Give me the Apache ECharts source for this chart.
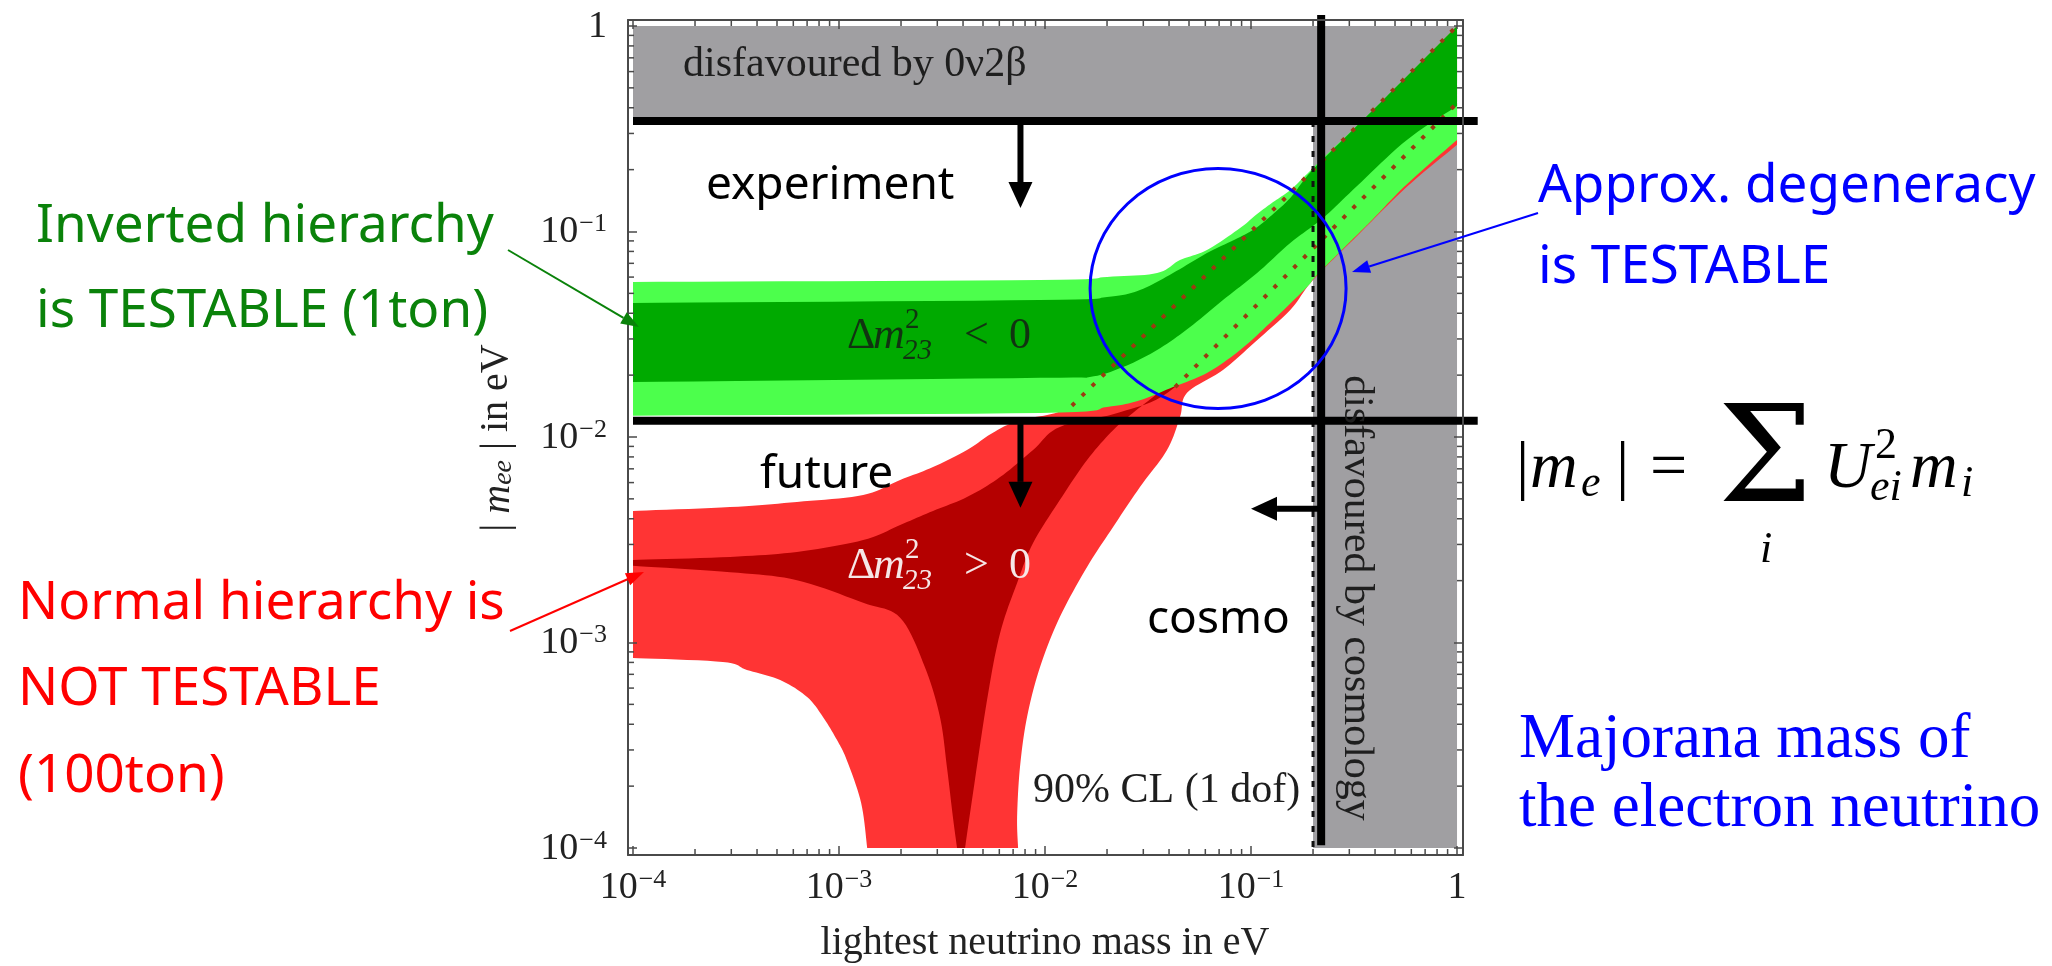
<!DOCTYPE html>
<html>
<head>
<meta charset="utf-8">
<script src="https://cdn.jsdelivr.net/npm/echarts@6/dist/echarts.min.js"></script>
<style>
  html, body { margin: 0; padding: 0; background: #ffffff; }
  #chart { width: 2052px; height: 966px; }
</style>
</head>
<body>
<div id="chart"></div>
<script>
// ---------------- axes ----------------
// the frame is a little wider than the decades 1e-4 .. 1
const X_MIN = 9.456e-5, X_MAX = 1.069;
const Y_MIN = 9.245e-5, Y_MAX = 1.0695;
const MINOR_TICKS = [
  2e-4, 3e-4, 4e-4, 5e-4, 6e-4, 7e-4, 8e-4, 9e-4,
  2e-3, 3e-3, 4e-3, 5e-3, 6e-3, 7e-3, 8e-3, 9e-3,
  2e-2, 3e-2, 4e-2, 5e-2, 6e-2, 7e-2, 8e-2, 9e-2,
  0.2, 0.3, 0.4, 0.5, 0.6, 0.7, 0.8, 0.9
];

// ---------------- excluded regions ----------------
const DOUBLE_BETA_X = [1e-4, 1];      // disfavoured by 0v2b
const DOUBLE_BETA_Y = [0.345, 1];
const COSMO_X = [0.2, 1];             // disfavoured by cosmology
const COSMO_Y = [1e-4, 0.345];

// ---------------- |m_ee| bands: [lightest mass, m_ee] ----------------
// each band is a list of boundary curves, joined by straight edges
// normal hierarchy, wide (light red) region
const nhOuterTop = [
  [1e-4, 4.37e-3], [2.96e-4, 4.56e-3], [6.25e-4, 4.83e-3], [1.31e-3, 5.22e-3],
  [1.98e-3, 6.18e-3], [2.86e-3, 7.14e-3], [4.18e-3, 8.64e-3], [5.59e-3, 0.0105],
  [7.56e-3, 0.0121], [0.0135, 0.0142], [0.0267, 0.0271], [0.0611, 0.0628],
  [0.143, 0.142], [0.327, 0.323], [1, 1]
];
const nhOuterRight = [
  [1, 0.264], [0.571, 0.165], [0.327, 0.0951], [0.2, 0.0581], [0.155, 0.0415],
  [0.107, 0.0296], [0.0731, 0.0212], [0.0489, 0.0164], [0.0452, 0.0125],
  [0.0391, 8.64e-3], [0.0289, 5.71e-3], [0.0214, 3.65e-3], [0.0160, 2.33e-3],
  [0.0118, 1.33e-3], [9.46e-3, 7.60e-4], [8.18e-3, 4.34e-4], [7.56e-3, 2.48e-4],
  [7.32e-3, 1.42e-4], [7.40e-3, 1e-4]
];
const nhOuterLeft = [
  [1.37e-3, 1e-4], [1.28e-3, 1.66e-4], [1.09e-3, 2.68e-4], [9.78e-4, 3.35e-4],
  [8.36e-4, 4.34e-4], [7.0e-4, 5.43e-4], [5.18e-4, 6.57e-4], [3.57e-4, 7.35e-4],
  [2.73e-4, 8.04e-4], [1e-4, 8.41e-4]
];
// normal hierarchy, best-fit (dark red) region
const nhInnerTop = [
  [1e-4, 2.52e-3], [2.96e-4, 2.61e-3], [6.25e-4, 2.76e-3], [1.31e-3, 3.15e-3],
  [1.98e-3, 3.73e-3], [2.86e-3, 4.37e-3], [4.18e-3, 5.10e-3], [6.05e-3, 6.38e-3],
  [8.75e-3, 8.64e-3], [0.0118, 0.0112], [0.0231, 0.0132], [0.0428, 0.0175],
  [0.116, 0.048], [0.313, 0.130], [1, 0.422]
];
const nhInnerRight = [
  [1, 0.330], [0.529, 0.211], [0.303, 0.120], [0.173, 0.0687], [0.0989, 0.0392],
  [0.0565, 0.0237], [0.0361, 0.0166], [0.0267, 0.0131], [0.0214, 0.0108],
  [0.0160, 7.73e-3], [0.0118, 4.93e-3], [8.75e-3, 3.05e-3], [7.32e-3, 1.95e-3],
  [6.05e-3, 1.11e-3], [5.23e-3, 5.25e-4], [4.42e-3, 1.71e-4], [4.09e-3, 1e-4]
];
const nhInnerLeft = [
  [3.74e-3, 1e-4], [3.57e-3, 1.42e-4], [3.34e-3, 2.48e-4], [3.09e-3, 4.34e-4],
  [2.61e-3, 7.60e-4], [1.98e-3, 1.32e-3], [1.31e-3, 1.56e-3], [6.25e-4, 2.01e-3],
  [2.96e-4, 2.20e-3], [1e-4, 2.36e-3]
];
// inverted hierarchy, wide (light green) region
const ihOuterTop = [
  [1e-4, 0.0568], [9.46e-3, 0.0581], [0.0200, 0.0601], [0.0350, 0.0628],
  [0.0452, 0.0726], [0.0611, 0.0813], [0.0885, 0.104], [0.107, 0.1217],
  [0.128, 0.139], [0.155, 0.159], [0.187, 0.1905], [0.224, 0.228],
  [0.391, 0.390], [1, 1.0]
];
const ihOuterBottom = [
  [1, 0.279], [0.571, 0.170], [0.391, 0.115], [0.327, 0.0962], [0.209, 0.0614],
  [0.187, 0.0537], [0.128, 0.0371], [0.0885, 0.0265], [0.0611, 0.0205],
  [0.0418, 0.0175], [0.0289, 0.0151], [0.0200, 0.0140], [9.46e-3, 0.0131],
  [1e-4, 0.0127]
];
// inverted hierarchy, best-fit (dark green) region
const ihInnerTop = [
  [1e-4, 0.0449], [9.46e-3, 0.0464], [0.0200, 0.0480], [0.0289, 0.0519],
  [0.0418, 0.0628], [0.0611, 0.0785], [0.0885, 0.0940], [0.107, 0.105],
  [0.128, 0.1217], [0.155, 0.1456], [0.187, 0.186], [0.224, 0.225],
  [0.391, 0.390], [1, 1.0]
];
const ihInnerBottom = [
  [1, 0.408], [0.571, 0.279], [0.327, 0.1665], [0.224, 0.1164], [0.155, 0.0879],
  [0.107, 0.0628], [0.0731, 0.0464], [0.0506, 0.0343], [0.0350, 0.0265],
  [0.0239, 0.0219], [0.0165, 0.0196], [9.46e-3, 0.0194], [1e-4, 0.0185]
];
// normal-hierarchy edges running under the inverted band (dotted)
const nhEdgeUpper = [[0.0135, 0.0142], [0.143, 0.142], [1, 1]];
const nhEdgeLower = [[0.0428, 0.0175], [0.19, 0.0785], [1, 0.422]];

// ---------------- sensitivities ----------------
const LIMIT_EXPERIMENT = 0.345;   // present 0v2b bound
const LIMIT_FUTURE = 0.012;       // future 0v2b reach
const LIMIT_COSMO = 0.219;        // cosmological bound on the lightest mass
const LIMIT_LINE_X = [1e-4, 1.26];
const LIMIT_LINE_Y = [1.13, 1.03e-4];
// arrows: [x from, y from, x to, y to]
const limitArrows = [
  [7.6e-3, 0.345, 7.6e-3, 0.130],
  [7.6e-3, 0.012, 7.6e-3, 4.52e-3],
  [0.219, 4.47e-3, 0.1, 4.47e-3]
];
const DEGENERACY_CENTER = [0.0692, 0.0528];

// ---------------- colours ----------------
const GRAY = '#a09fa2';
const GREEN_DARK = '#00aa00', GREEN_LIGHT = '#4cff4c';
const RED_LIGHT = '#ff3434', RED_DARK = '#b40000';
const FRAME = '#4a4a4a';
const SERIF = '"Liberation Serif", "Times New Roman", serif';
const HAND = '"Comic Sans MS", "Noto Sans", sans-serif';

const chart = echarts.init(document.getElementById('chart'), null, { renderer: 'canvas' });

// Catmull-Rom curve through pixel points, sampled for drawing
function smoothCurve(pts, steps) {
  if (pts.length < 3) return pts.slice();
  const out = [];
  const n = pts.length;
  for (let i = 0; i < n - 1; i++) {
    const p0 = pts[Math.max(i - 1, 0)], p1 = pts[i], p2 = pts[i + 1], p3 = pts[Math.min(i + 2, n - 1)];
    for (let s = 0; s < steps; s++) {
      const t = s / steps, t2 = t * t, t3 = t2 * t;
      out.push([0, 1].map(k => 0.5 * ((2 * p1[k]) + (-p0[k] + p2[k]) * t +
        (2 * p0[k] - 5 * p1[k] + 4 * p2[k] - p3[k]) * t2 +
        (-p0[k] + 3 * p1[k] - 3 * p2[k] + p3[k]) * t3)));
    }
  }
  out.push(pts[n - 1]);
  return out;
}
function bandSeries(curves, color, z) {
  return {
    type: 'custom', coordinateSystem: 'cartesian2d', silent: true, z: z, clip: false,
    data: [curves[0][0]],
    renderItem: (params, api) => {
      let pts = [];
      curves.forEach(c => { pts = pts.concat(smoothCurve(c.map(p => api.coord(p)), 10)); });
      return { type: 'polygon', shape: { points: pts }, style: { fill: color } };
    }
  };
}
function rectSeries(xr, yr, color, z) {
  return {
    type: 'custom', coordinateSystem: 'cartesian2d', silent: true, z: z, clip: false,
    data: [[xr[0], yr[0]]],
    renderItem: (params, api) => ({
      type: 'polygon',
      shape: { points: [[xr[0], yr[0]], [xr[1], yr[0]], [xr[1], yr[1]], [xr[0], yr[1]]].map(p => api.coord(p)) },
      style: { fill: color }
    })
  };
}
function pathSeries(points, style, z) {
  return {
    type: 'custom', coordinateSystem: 'cartesian2d', silent: true, z: z, clip: false,
    data: [points[0]],
    renderItem: (params, api) => ({
      type: 'polyline',
      shape: { points: points.map(p => api.coord(p)) },
      style: Object.assign({ fill: 'none' }, style)
    })
  };
}
function headPoints(x1, y1, x2, y2, hl, hw) {
  const dx = x2 - x1, dy = y2 - y1, L = Math.hypot(dx, dy);
  const ux = dx / L, uy = dy / L;
  const bx = x2 - ux * hl, by = y2 - uy * hl;
  return { bx, by, pts: [[x2, y2], [bx - uy * hw / 2, by + ux * hw / 2], [bx + uy * hw / 2, by - ux * hw / 2]] };
}
function arrowGraphic(x1, y1, x2, y2, color, lw, hl, hw) {
  const h = headPoints(x1, y1, x2, y2, hl, hw);
  return [
    { type: 'line', z: 60, silent: true, shape: { x1, y1, x2: h.bx, y2: h.by }, style: { stroke: color, lineWidth: lw } },
    { type: 'polygon', z: 60, silent: true, shape: { points: h.pts }, style: { fill: color } }
  ];
}
function label(text, x, y, size, color, family, extra) {
  return Object.assign({
    type: 'text', x: x, y: y, z: 60, silent: true,
    style: Object.assign({
      text: text, fill: color, fontSize: size, fontFamily: family,
      align: 'left', verticalAlign: 'middle', textAlign: 'left', textVerticalAlign: 'middle'
    }, (extra && extra.style) || {})
  }, extra ? { rotation: extra.rotation || 0 } : {});
}

function tickLabel(value) {
  const e = Math.log10(value);
  const k = Math.round(e);
  if (Math.abs(e - k) > 1e-6) return '';
  if (k === 0) return '{b|1}';
  return '{b|10}{s|\u2212' + (-k) + '}';
}
const labelRich = {
  b: { fontFamily: SERIF, fontSize: 38, color: '#222', verticalAlign: 'bottom', lineHeight: 40 },
  s: { fontFamily: SERIF, fontSize: 26, color: '#222', verticalAlign: 'top', lineHeight: 26, padding: [0, 0, 20, 1] }
};
function logAxis(pos, showLabel, margin) {
  const horizontal = (pos === 'bottom' || pos === 'top');
  return {
    type: 'log', logBase: 10, position: pos, z: 20,
    min: horizontal ? X_MIN : Y_MIN,
    max: horizontal ? X_MAX : Y_MAX,
    splitLine: { show: false },
    axisLine: { show: true, onZero: false, lineStyle: { color: FRAME, width: 2 } },
    axisTick: { show: true, inside: true, length: 9, lineStyle: { color: FRAME, width: 1.5 } },
    axisLabel: {
      show: showLabel, margin: margin, formatter: tickLabel, rich: labelRich,
      fontFamily: SERIF, fontSize: 38, color: '#222', showMinLabel: true, showMaxLabel: true
    }
  };
}

const DOT_STYLE = { stroke: '#9c3a12', lineWidth: 4, lineDash: [4, 10] };
const series = [
  rectSeries(DOUBLE_BETA_X, DOUBLE_BETA_Y, GRAY, 2),
  rectSeries(COSMO_X, COSMO_Y, GRAY, 2),
  bandSeries([nhOuterTop, nhOuterRight, nhOuterLeft], RED_LIGHT, 3),
  bandSeries([nhInnerTop, nhInnerRight, nhInnerLeft], RED_DARK, 4),
  bandSeries([ihOuterTop, ihOuterBottom], GREEN_LIGHT, 5),
  bandSeries([ihInnerTop, ihInnerBottom], GREEN_DARK, 6),
  pathSeries(nhEdgeUpper, DOT_STYLE, 7),
  pathSeries(nhEdgeLower, DOT_STYLE, 7),
  // edge of the cosmology region
  pathSeries([[COSMO_X[0], COSMO_Y[1]], [COSMO_X[0], COSMO_Y[0]]], { stroke: '#111', lineWidth: 3, lineDash: [6, 9] }, 8),
  // sensitivity lines
  pathSeries([[LIMIT_LINE_X[0], LIMIT_EXPERIMENT], [LIMIT_LINE_X[1], LIMIT_EXPERIMENT]], { stroke: '#000', lineWidth: 8 }, 9),
  pathSeries([[LIMIT_LINE_X[0], LIMIT_FUTURE], [LIMIT_LINE_X[1], LIMIT_FUTURE]], { stroke: '#000', lineWidth: 8 }, 9),
  pathSeries([[LIMIT_COSMO, LIMIT_LINE_Y[0]], [LIMIT_COSMO, LIMIT_LINE_Y[1]]], { stroke: '#000', lineWidth: 8 }, 9),
  {
    type: 'custom', coordinateSystem: 'cartesian2d', silent: true, z: 9, clip: false,
    data: limitArrows,
    encode: { x: [0, 2], y: [1, 3] },
    renderItem: (params, api) => {
      const p1 = api.coord([api.value(0), api.value(1)]);
      const p2 = api.coord([api.value(2), api.value(3)]);
      const h = headPoints(p1[0], p1[1], p2[0], p2[1], 26, 24);
      return {
        type: 'group', children: [
          { type: 'line', shape: { x1: p1[0], y1: p1[1], x2: h.bx, y2: h.by }, style: { stroke: '#000', lineWidth: 6 } },
          { type: 'polygon', shape: { points: h.pts }, style: { fill: '#000' } }
        ]
      };
    }
  },
  {
    type: 'custom', coordinateSystem: 'cartesian2d', silent: true, z: 10, clip: false,
    data: [DEGENERACY_CENTER],
    renderItem: (params, api) => {
      const c = api.coord([api.value(0), api.value(1)]);
      return {
        type: 'circle', x: c[0], y: c[1], scaleY: 120 / 128,
        shape: { cx: 0, cy: 0, r: 128 },
        style: { fill: 'none', stroke: '#0000ff', lineWidth: 3, strokeNoScale: true }
      };
    }
  },
  // minor ticks on all four sides of the frame
  {
    type: 'custom', coordinateSystem: 'cartesian2d', silent: true, z: 20, clip: false,
    data: MINOR_TICKS.map(v => [v, v]),
    renderItem: (params, api) => {
      const v = api.value(0);
      const cs = params.coordSys;
      const px = api.coord([v, 1])[0];
      const py = api.coord([1, v])[1];
      const L = 6, st = { stroke: FRAME, lineWidth: 1.5 };
      const bot = cs.y + cs.height, right = cs.x + cs.width;
      return {
        type: 'group', children: [
          { type: 'line', shape: { x1: px, y1: bot, x2: px, y2: bot - L }, style: st },
          { type: 'line', shape: { x1: px, y1: cs.y, x2: px, y2: cs.y + L }, style: st },
          { type: 'line', shape: { x1: cs.x, y1: py, x2: cs.x + L, y2: py }, style: st },
          { type: 'line', shape: { x1: right, y1: py, x2: right - L, y2: py }, style: st }
        ]
      };
    }
  }
];

// ---------------- text and annotations ----------------
const graphics = [];
// inside the frame
graphics.push(label('disfavoured by 0\u03bd2\u03b2', 683, 65, 42, '#1e1e1e', SERIF));
graphics.push(label('disfavoured by cosmology', 1356, 598, 42, '#1e1e1e', SERIF,
  { rotation: -Math.PI / 2, style: { align: 'center', textAlign: 'center' } }));
graphics.push(label('90% CL (1 dof)', 1033, 791, 42, '#1e1e1e', SERIF));
// Delta m^2_23 labels
function deltaLabel(y, sign, color) {
  graphics.push(label('\u0394', 847, y, 44, color, SERIF));
  graphics.push(label('m', 873, y, 44, color, SERIF, { style: { fontStyle: 'italic' } }));
  graphics.push(label('2', 905, y - 16, 29, color, SERIF));
  graphics.push(label('23', 903, y + 15, 29, color, SERIF, { style: { fontStyle: 'italic' } }));
  graphics.push(label(sign, 964, y, 44, color, SERIF));
  graphics.push(label('0', 1009, y, 44, color, SERIF));
}
deltaLabel(336, '<', '#113311');
deltaLabel(566, '>', '#f6e6e6');
// handwritten notes
graphics.push(label('experiment', 706, 186, 46, '#000', HAND));
graphics.push(label('future', 760, 475, 46, '#000', HAND));
graphics.push(label('cosmo', 1147, 620, 46, '#000', HAND));
const GREEN_TXT = '#0a820a', RED_TXT = '#ff0000', BLUE_TXT = '#0000ff';
graphics.push(label('Inverted hierarchy', 36, 227, 53, GREEN_TXT, HAND));
graphics.push(label('is TESTABLE (1ton)', 36, 312, 53, GREEN_TXT, HAND));
graphics.push(label('Normal hierarchy is', 18, 604, 53, RED_TXT, HAND));
graphics.push(label('NOT TESTABLE', 18, 690, 53, RED_TXT, HAND));
graphics.push(label('(100ton)', 18, 777, 53, RED_TXT, HAND));
graphics.push(label('Approx. degeneracy', 1538, 187, 53, BLUE_TXT, HAND));
graphics.push(label('is TESTABLE', 1538, 268, 53, BLUE_TXT, HAND));
graphics.push(...arrowGraphic(508, 250, 639, 327, GREEN_TXT, 2, 18, 13));
graphics.push(...arrowGraphic(510, 631, 644, 572, RED_TXT, 2, 18, 13));
graphics.push(...arrowGraphic(1538, 213, 1352, 272, BLUE_TXT, 2, 18, 13));
// |m_e| = sum_i U_ei^2 m_i
const F = 66, f = 44;
const it = { style: { fontStyle: 'italic' } };
graphics.push(label('|', 1516, 470, F, '#000', SERIF));
graphics.push(label('m', 1530, 470, F, '#000', SERIF, it));
graphics.push(label('e', 1581, 484, f, '#000', SERIF, it));
graphics.push(label('|', 1616, 470, F, '#000', SERIF));
graphics.push(label('=', 1650, 470, F, '#000', SERIF));
graphics.push(label('\u03a3', 1718, 466, 134, '#000', '"DejaVu Serif", serif'));
graphics.push(label('i', 1760, 550, f, '#000', SERIF, it));
graphics.push(label('U', 1824, 470, F, '#000', SERIF, it));
graphics.push(label('2', 1875, 446, f, '#000', SERIF));
graphics.push(label('ei', 1870, 488, f, '#000', SERIF, it));
graphics.push(label('m', 1910, 470, F, '#000', SERIF, it));
graphics.push(label('i', 1961, 484, f, '#000', SERIF, it));
graphics.push(label('Majorana mass of', 1519, 740, 63, BLUE_TXT, SERIF));
graphics.push(label('the electron neutrino', 1519, 809, 63, BLUE_TXT, SERIF));
// axis titles
graphics.push({
  type: 'text', x: 496, y: 438, rotation: Math.PI / 2, z: 60, silent: true,
  style: {
    text: '| {i|m}{s|ee} | in eV', fill: '#222', fontSize: 40, fontFamily: SERIF,
    align: 'center', verticalAlign: 'middle', textAlign: 'center', textVerticalAlign: 'middle',
    rich: {
      i: { fontSize: 40, fontFamily: SERIF, fontStyle: 'italic', fill: '#222', verticalAlign: 'bottom', lineHeight: 44 },
      s: { fontSize: 28, fontFamily: SERIF, fontStyle: 'italic', fill: '#222', verticalAlign: 'bottom', lineHeight: 36 }
    }
  }
});
graphics.push(label('lightest neutrino mass in eV', 1045, 943, 40, '#222', SERIF,
  { style: { align: 'center', textAlign: 'center' } }));

chart.setOption({
  animation: false,
  backgroundColor: '#ffffff',
  grid: { left: 628, right: 589, top: 20, bottom: 111, containLabel: false, outerBoundsMode: 'none' },
  xAxis: [logAxis('bottom', true, 12), logAxis('top', false, 8)],
  yAxis: [logAxis('left', true, 21), logAxis('right', false, 8)],
  series: series,
  graphic: { elements: graphics }
});
</script>
</body>
</html>
